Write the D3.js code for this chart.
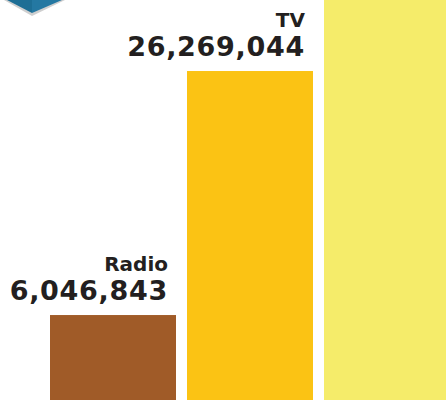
<!DOCTYPE html>
<html>
<head>
<meta charset="utf-8">
<script src="https://cdn.jsdelivr.net/npm/d3@7"></script>
<style>
  html, body { margin: 0; padding: 0; background: #fff; }
  svg { display: block; }
</style>
</head>
<body>
<div id="chart"></div>
<script>
var width = 446;
var height = 400;

// data
const categories = ["Radio", "TV", "Internet"];
const values = [6046843, 26269044, 36000000];
const colors = ["#a05b28", "#fbc314", "#f5ec6a"];

const x = d3.scaleBand().domain(categories).range([50, 450]).paddingInner(0.0803).paddingOuter(0);
const y = d3.scaleLinear().domain([0, 30000000]).range([388, 26]);

const svg = d3.select("#chart")
    .append("svg")
    .attr("width", width)
    .attr("height", height)
    .attr("viewBox", "0 0 " + width + " " + height);

// little teal cube corner peeking in at top-left
svg.append("path")
    .attr("d", "M4,0 L32,16 L65,0 Z")
    .attr("fill", "#cfcfcf");
svg.append("path")
    .attr("d", "M7,0 L32,13 L32,0 Z")
    .attr("fill", "#1d6e95");
svg.append("path")
    .attr("d", "M32,0 L32,13 L62,0 Z")
    .attr("fill", "#2478a2");

const data = categories.map(function(c, i){ return { name: c, value: values[i], color: colors[i] }; });

svg.selectAll("rect.bar")
    .data(data)
    .enter().append("rect")
    .attr("class", "bar")
    .attr("x", function(d){ return x(d.name); })
    .attr("y", function(d){ return y(d.value); })
    .attr("width", x.bandwidth())
    .attr("height", function(d){ return height - y(d.value); })
    .attr("fill", function(d){ return d.color; });

var fmt = d3.format(",");
var visible = data.filter(function(d){ return y(d.value) > 60; });

var lbl = svg.selectAll("g.lbl")
    .data(visible)
    .enter().append("g")
    .attr("class", "lbl")
    .attr("transform", function(d){
        return "translate(" + (x(d.name) + x.bandwidth() - 8) + "," + (y(d.value) - 15) + ")";
    })
    .attr("text-anchor", "end")
    .attr("fill", "#231f20")
    .attr("font-family", "'DejaVu Sans', sans-serif")
    .attr("font-weight", "bold");

lbl.append("text")
    .attr("y", -29)
    .attr("font-size", 20)
    .text(function(d){ return d.name; });

lbl.append("text")
    .attr("font-size", 27)
    .attr("letter-spacing", 0.7)
    .text(function(d){ return fmt(d.value); });
</script>
</body>
</html>
